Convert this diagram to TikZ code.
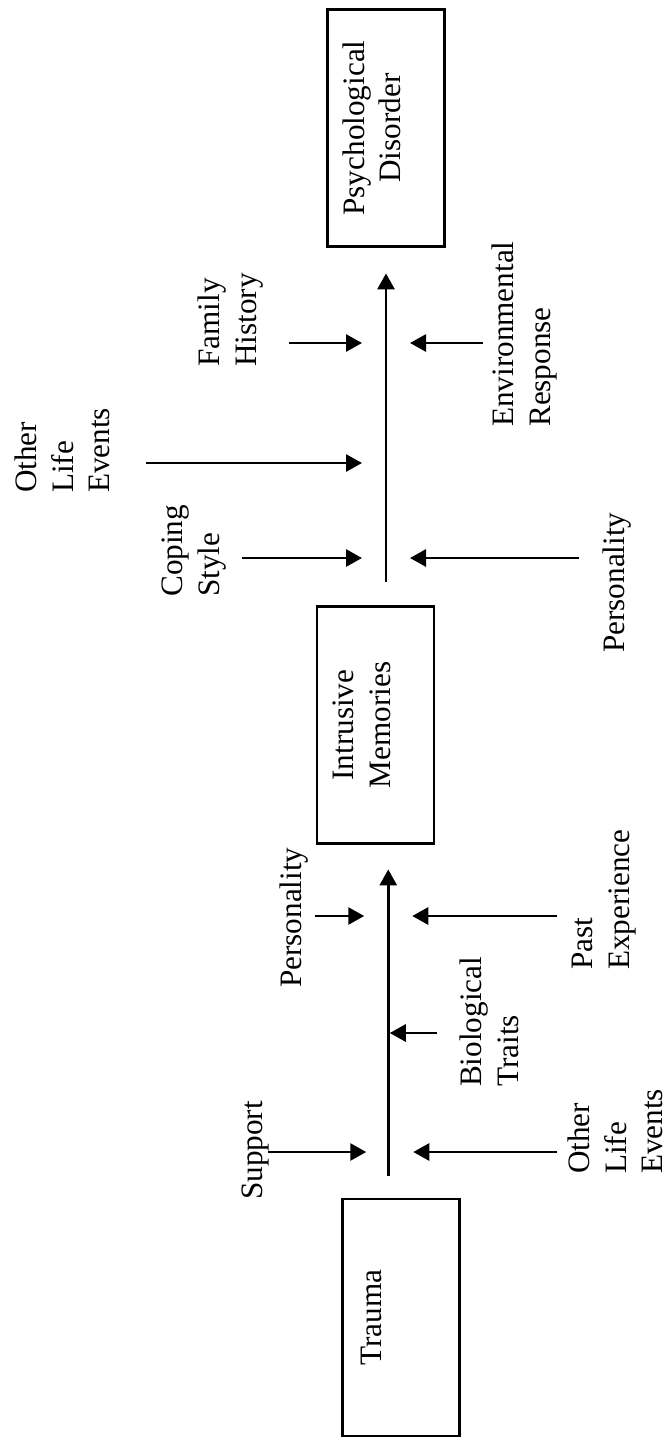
\documentclass[tikz,border=0pt]{standalone}
\usepackage{fontspec}
\setmainfont{Liberation Serif}
\usetikzlibrary{arrows.meta,calc}
\begin{document}
\begin{tikzpicture}[x=1pt,y=-1pt,
  lbl/.style={rotate=90,anchor=north west,inner sep=0pt,align=left,font=\fontsize{31.2}{36.5}\selectfont},
  boxnode/.style={rotate=90,draw,line width=2.8pt,inner sep=0pt,font=\fontsize{31.2}{36.5}\selectfont},
  flow/.style={line width=2.8pt,-{Triangle[length=16pt,width=17pt]}}]
\useasboundingbox (0,0) rectangle (668,1440);
\fill[white] (0,0) rectangle (668,1440);
% boxes
\node[boxnode] (pd) at (386,128) {\parbox[c][117pt][t]{237pt}{\centering\vspace*{15pt}Psychological\\Disorder}};
\node[boxnode] (im) at (375.5,725) {\parbox[c][117pt][t]{237pt}{\centering\vspace*{16pt}Intrusive\\Memories}};
\node[boxnode] (tr) at (401,1317.5) {\parbox[c][117pt][t]{237pt}{\centering\vspace*{19pt}Trauma}};
% labels
\node[lbl] (oleT) at (15,493) {Other\\Life\\Events};
\node[lbl] (fh) at (198,367) {Family\\History};
\node[lbl] (env) at (492,427) {Environmental\\Response};
\node[lbl] (cs) at (162,597) {Coping\\Style};
\node[lbl] (perU) at (603,653) {Personality};
\node[lbl] (perL) at (280,988) {Personality};
\node[lbl] (pe) at (572,970) {Past\\Experience};
\node[lbl] (bt) at (460,1087) {Biological\\Traits};
\node[lbl] (sup) at (242,1200) {Support};
\node[lbl] (oleB) at (568,1174) {Other\\Life\\Events};
% main arrows
\coordinate (mid) at ($(tr.east)!0.5!(im.west)$);
\draw[flow, shorten <=23.5pt, shorten >=25.5pt] (pd.west |- im.east) -- (pd.west);
\draw[flow, shorten <=22pt, shorten >=24.5pt] (mid |- tr.east) -- (mid |- im.west);
% side arrows, upper
\coordinate (fhA) at (289,343);
\coordinate (envA) at (483,343);
\coordinate (oleTA) at (146,463);
\coordinate (csA) at (242,558);
\coordinate (perUA) at (579,558);
\draw[flow, shorten >=24pt] (fhA) -- (fhA -| pd.west);
\draw[flow, shorten >=24pt] (envA) -- (envA -| pd.west);
\draw[flow, shorten >=24pt] (oleTA) -- (oleTA -| pd.west);
\draw[flow, shorten >=24pt] (csA) -- (csA -| pd.west);
\draw[flow, shorten >=24pt] (perUA) -- (perUA -| pd.west);
% side arrows, lower
\coordinate (perLA) at (315,916);
\coordinate (peA) at (557,916);
\coordinate (btA) at (437,1033);
\coordinate (supA) at (268,1152);
\coordinate (oleBA) at (557,1152);
\draw[flow, shorten >=24pt] (perLA) -- (perLA -| mid);
\draw[flow, shorten >=24pt] (peA) -- (peA -| mid);
\draw[flow, shorten >=1.5pt] (btA) -- (btA -| mid);
\draw[flow, shorten >=22pt] (supA) -- (supA -| mid);
\draw[flow, shorten >=25pt] (oleBA) -- (oleBA -| mid);
\end{tikzpicture}
\end{document}
